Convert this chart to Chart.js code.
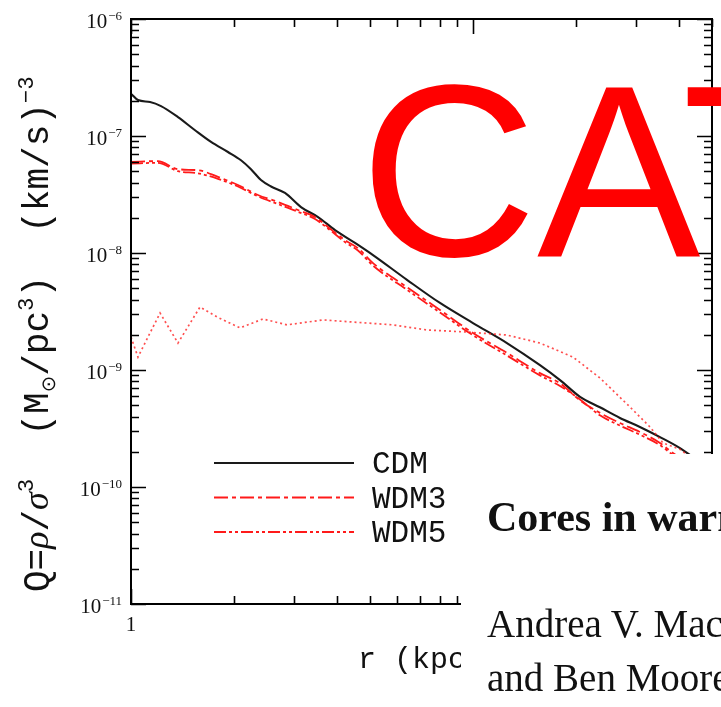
<!DOCTYPE html>
<html>
<head>
<meta charset="utf-8">
<script src="https://cdn.jsdelivr.net/npm/chart.js@4.4.1/dist/chart.umd.min.js"></script>
<style>
  html, body { margin: 0; padding: 0; background: #fff; }
  #wrap { position: relative; width: 721px; height: 707px; overflow: hidden; }
  #chart { position: absolute; left: 0; top: 0; }
  #over { position: absolute; left: 0; top: 0; pointer-events: none; }
</style>
</head>
<body>
<div id="wrap">
  <canvas id="chart" width="721" height="707"></canvas>
  <svg id="over" width="721" height="707" xmlns="http://www.w3.org/2000/svg">
    <text x="360" y="256" font-family="Liberation Sans, Arial, sans-serif" font-size="245" fill="#ff0000">CAT</text>
    <rect x="461" y="454" width="260" height="253" fill="#ffffff"/>
    <text x="487" y="531" font-family="Liberation Serif, serif" font-weight="bold" font-size="42" fill="#111">Cores in warm dark matter haloes</text>
    <text x="487" y="637" font-family="Liberation Serif, serif" font-size="39" fill="#111">Andrea V. Macciò, Sinziana Paduroiu,</text>
    <text x="487" y="691" font-family="Liberation Serif, serif" font-size="39" fill="#111">and Ben Moore</text>
  </svg>
</div>
<script>
// Phase-space density profiles Q(r) = rho / sigma^3
const rCDM = [1.000, 1.048, 1.137, 1.224, 1.372, 1.539, 1.714, 1.921, 2.097, 2.243, 2.399, 2.567,
              2.820, 3.141, 3.523, 3.950, 4.519, 5.102, 6.412, 8.008, 10.0, 12.57, 15.70, 17.97,
              20.56, 23.51, 26.90, 30.77, 35.23, 40.30, 43.99, 50.0];
const qCDM = [2.3e-7, 2.03e-7, 1.95e-7, 1.80e-7, 1.45e-7, 1.12e-7, 8.9e-8, 7.3e-8, 6.2e-8, 5.2e-8, 4.2e-8, 3.7e-8,
              3.26e-8, 2.47e-8, 2.03e-8, 1.57e-8, 1.22e-8, 9.6e-9, 5.9e-9, 3.74e-9, 2.52e-9, 1.70e-9, 1.10e-9, 8.2e-10,
              5.9e-10, 4.8e-10, 3.89e-10, 3.26e-10, 2.67e-10, 2.15e-10, 1.80e-10, 1.40e-10];

const rWDM = [1.000, 1.199, 1.372, 1.570, 1.796, 2.055, 2.351, 2.690, 3.078, 3.452, 3.767, 4.224, 4.610,
              5.102, 6.412, 8.008, 10.0, 12.57, 15.70, 17.97, 20.56, 23.51, 26.90, 30.77, 35.23, 38.44, 50.0];
const qWDM3 = [6.0e-8, 6.1e-8, 5.2e-8, 5.1e-8, 4.47e-8, 3.81e-8, 3.13e-8, 2.73e-8, 2.33e-8, 2.03e-8, 1.67e-8, 1.29e-8, 1.10e-8,
               8.2e-9, 5.1e-9, 3.26e-9, 2.07e-9, 1.40e-9, 9.4e-10, 7.7e-10, 5.5e-10, 4.3e-10, 3.52e-10, 2.95e-10, 2.38e-10, 1.95e-10, 1.2e-10];
const qWDM5 = [5.8e-8, 5.9e-8, 5.0e-8, 4.8e-8, 4.3e-8, 3.7e-8, 3.05e-8, 2.62e-8, 2.25e-8, 1.95e-8, 1.62e-8, 1.24e-8, 1.05e-8,
               7.8e-9, 4.85e-9, 3.1e-9, 1.98e-9, 1.33e-9, 9.0e-10, 7.3e-10, 5.6e-10, 4.1e-10, 3.35e-10, 2.8e-10, 2.28e-10, 1.88e-10, 1.15e-10];

const rWDM1 = [1.000, 1.048, 1.216, 1.372, 1.591, 1.784, 2.083, 2.432, 2.859, 3.642, 4.459, 5.836,
               7.338, 9.605, 12.57, 15.70, 19.61, 23.51, 28.78, 32.93, 35.94, 40.30, 50.0];
const qWDM1 = [1.91e-9, 1.29e-9, 3.07e-9, 1.70e-9, 3.45e-9, 2.84e-9, 2.29e-9, 2.73e-9, 2.43e-9, 2.68e-9, 2.57e-9, 2.43e-9,
               2.20e-9, 2.11e-9, 1.99e-9, 1.70e-9, 1.29e-9, 8.55e-10, 4.83e-10, 3.26e-10, 2.38e-10, 2.1e-10, 1.3e-10];

// Axis decorations
const yTickExponents = [-6, -7, -8, -9, -10, -11];
const xTickLabels = [1, 10];
const legendNames = ['CDM', 'WDM3', 'WDM5'];

const pts = (xs, ys) => xs.map((x, i) => ({ x, y: ys[i] }));

const MONO = '"Liberation Mono", "DejaVu Sans Mono", monospace';
const SERIF = '"Liberation Serif", "DejaVu Serif", serif';

// Frame with inward ticks on all four sides, tick labels, axis titles and legend
const decorPlugin = {
  id: 'decor',
  afterDatasetsDraw(chart) {
    const { ctx, chartArea: a, scales: { x, y } } = chart;
    ctx.save();
    ctx.strokeStyle = '#000';
    ctx.lineWidth = 2;
    ctx.strokeRect(a.left, a.top, a.right - a.left, a.bottom - a.top);

    const logTicks = (min, max) => {
      const out = [];
      for (let e = Math.floor(Math.log10(min)); e <= Math.ceil(Math.log10(max)); e++) {
        for (let m = 1; m <= 9; m++) {
          const v = m * Math.pow(10, e);
          if (v >= min * 0.9999 && v <= max * 1.0001) out.push({ v, major: m === 1 });
        }
      }
      return out;
    };
    ctx.lineWidth = 1.6;
    ctx.beginPath();
    for (const t of logTicks(y.min, y.max)) {
      const py = Math.round(y.getPixelForValue(t.v)) + 0.5;
      const len = t.major ? 15 : 8;
      ctx.moveTo(a.left, py); ctx.lineTo(a.left + len, py);
      ctx.moveTo(a.right, py); ctx.lineTo(a.right - len, py);
    }
    for (const t of logTicks(x.min, x.max)) {
      const px = Math.round(x.getPixelForValue(t.v)) + 0.5;
      const len = t.major ? 15 : 8;
      ctx.moveTo(px, a.bottom); ctx.lineTo(px, a.bottom - len);
      ctx.moveTo(px, a.top); ctx.lineTo(px, a.top + len);
    }
    ctx.stroke();

    // y tick labels: 10 with a raised exponent
    ctx.fillStyle = '#111';
    for (const e of yTickExponents) {
      const py = y.getPixelForValue(Math.pow(10, e));
      const exp = '\u2212' + Math.abs(e);
      ctx.font = '13px ' + SERIF;
      ctx.textAlign = 'right';
      ctx.textBaseline = 'alphabetic';
      const ew = ctx.measureText(exp).width;
      ctx.fillText(exp, 122, py + 1);
      ctx.font = '21px ' + SERIF;
      ctx.fillText('10', 122 - ew - 1, py + 9);
    }
    // x tick labels
    ctx.font = '21px ' + SERIF;
    ctx.textAlign = 'center';
    for (const v of xTickLabels) {
      ctx.fillText(String(v), x.getPixelForValue(v), a.bottom + 27);
    }

    // x axis title
    ctx.font = '30px ' + MONO;
    ctx.textAlign = 'left';
    ctx.fillText('r (kpc)', 358, 668);

    // y axis title, read bottom to top: [text, font, size factor, baseline shift, italic serif]
    const fs = 36;
    const segs = [
      ['Q=', MONO, 1, 0],
      ['\u03c1', SERIF, 1, 0, true],
      ['/', MONO, 1, 0],
      ['\u03c3', SERIF, 1, 0, true],
      ['3', MONO, 0.62, -0.42],
      ['  (M', MONO, 1, 0],
      ['\u2299', '"DejaVu Sans", sans-serif', 0.55, 0.2],
      ['/pc', MONO, 1, 0],
      ['3', MONO, 0.62, -0.42],
      [')  (km/s)', MONO, 1, 0],
      ['\u22123', MONO, 0.62, -0.42]
    ];
    ctx.translate(48, 592);
    ctx.rotate(-Math.PI / 2);
    ctx.textAlign = 'left';
    let cx = 0;
    for (const s of segs) {
      const size = fs * s[2];
      ctx.font = (s[4] ? 'italic ' : '') + size + 'px ' + s[1];
      ctx.fillText(s[0], cx, s[3] * fs);
      cx += ctx.measureText(s[0]).width;
    }
    ctx.restore();

    // legend
    ctx.save();
    const ds = chart.data.datasets;
    legendNames.forEach((name, i) => {
      const d = ds.find(dd => dd.label === name);
      const ly = 463 + i * 34.5;
      ctx.beginPath();
      ctx.strokeStyle = d.borderColor;
      ctx.lineWidth = d.borderWidth;
      ctx.setLineDash(d.borderDash || []);
      ctx.moveTo(214, ly); ctx.lineTo(354, ly);
      ctx.stroke();
      ctx.setLineDash([]);
      ctx.fillStyle = '#111';
      ctx.font = '31px ' + MONO;
      ctx.textAlign = 'left';
      ctx.textBaseline = 'alphabetic';
      ctx.fillText(name, 372, ly + 10);
    });
    ctx.restore();
  }
};

new Chart(document.getElementById('chart'), {
  type: 'scatter',
  data: {
    datasets: [
      { label: 'WDM1', data: pts(rWDM1, qWDM1), showLine: true, pointRadius: 0,
        tension: 0, cubicInterpolationMode: 'default',
        borderColor: 'rgba(255,20,20,0.75)', borderWidth: 1.7, borderDash: [2, 3] },
      { label: 'WDM5', data: pts(rWDM, qWDM5), showLine: true, pointRadius: 0,
        cubicInterpolationMode: 'monotone',
        borderColor: '#ff1a1a', borderWidth: 1.8, borderDash: [12, 3, 3, 3, 3, 3] },
      { label: 'WDM3', data: pts(rWDM, qWDM3), showLine: true, pointRadius: 0,
        cubicInterpolationMode: 'monotone',
        borderColor: '#ff1a1a', borderWidth: 1.8, borderDash: [14, 4, 4, 4] },
      { label: 'CDM', data: pts(rCDM, qCDM), showLine: true, pointRadius: 0,
        cubicInterpolationMode: 'monotone',
        borderColor: '#1a1a1a', borderWidth: 2.1 }
    ]
  },
  options: {
    responsive: false,
    animation: false,
    events: [],
    layout: { padding: { top: 19, right: 9, left: 0, bottom: 0 } },
    plugins: { legend: { display: false }, tooltip: { enabled: false } },
    scales: {
      x: { type: 'logarithmic', min: 1, max: 50,
           grid: { display: false }, border: { display: false }, ticks: { display: false },
           afterFit(s) { s.height = 103; } },
      y: { type: 'logarithmic', min: 1e-11, max: 1e-6,
           grid: { display: false }, border: { display: false }, ticks: { display: false },
           afterFit(s) { s.width = 131; } }
    }
  },
  plugins: [decorPlugin]
});
</script>
</body>
</html>
